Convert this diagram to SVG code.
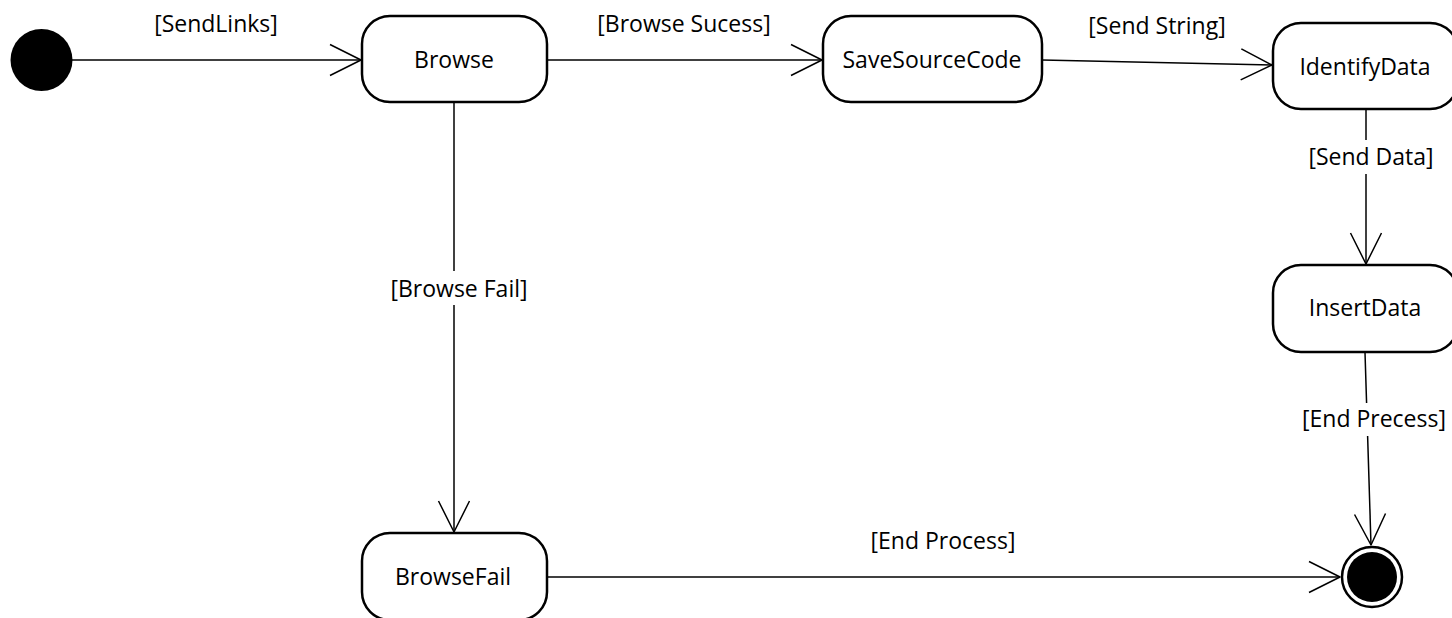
<svg xmlns="http://www.w3.org/2000/svg" width="1452" height="618" viewBox="0 0 1452 618">
<style>
.state{fill:#fff;stroke:#000;stroke-width:2.5}
.t{font-family:"Open Sans","Liberation Sans",sans-serif;font-size:23px;fill:#000;text-anchor:middle}
.c{fill:none;stroke:#000;stroke-width:1.5}
.bg{fill:#fff;stroke:none}
</style>
<defs>
<marker id="open" markerUnits="userSpaceOnUse" markerWidth="40" markerHeight="40" viewBox="-34 -20 40 40" refX="0" refY="0" orient="auto" overflow="visible">
<path d="M-31,-15.5 L0,0 L-31,15.5" fill="none" stroke="#000" stroke-width="1.5" stroke-linejoin="round"/>
</marker>
</defs>
<rect width="1452" height="618" fill="#fff"/>
<g id="connectors">
<line class="c" x1="72" y1="60" x2="361" y2="60" marker-end="url(#open)"/>
<line class="c" x1="547" y1="60" x2="822" y2="60" marker-end="url(#open)"/>
<line class="c" x1="1042" y1="60" x2="1272" y2="65" marker-end="url(#open)"/>
<line class="c" x1="1366" y1="109" x2="1366" y2="264" marker-end="url(#open)"/>
<line class="c" x1="1365" y1="352" x2="1371" y2="545" marker-end="url(#open)"/>
<line class="c" x1="454" y1="102" x2="454" y2="532" marker-end="url(#open)"/>
<line class="c" x1="547" y1="577" x2="1340" y2="577" marker-end="url(#open)"/>
<text class="t" x="216" y="32">[SendLinks]</text>
<text class="t" x="684" y="32">[Browse Sucess]</text>
<text class="t" x="1157" y="34">[Send String]</text>
<rect class="bg" x="1305" y="140" width="132" height="34"/>
<text class="t" x="1371" y="165">[Send Data]</text>
<rect class="bg" x="388" y="271" width="144" height="34"/>
<text class="t" x="459" y="297">[Browse Fail]</text>
<rect class="bg" x="1300" y="403" width="150" height="33"/>
<text class="t" x="1374" y="427">[End Precess]</text>
<text class="t" x="943" y="549">[End Process]</text>
</g>
<g id="initial">
<circle cx="41.5" cy="60" r="31" fill="#000"/>
</g>
<g id="browse">
<rect class="state" x="362" y="16" width="185" height="86" rx="28" ry="28"/>
<text class="t" x="454" y="68">Browse</text>
</g>
<g id="savesourcecode">
<rect class="state" x="823" y="16" width="219" height="86" rx="28" ry="28"/>
<text class="t" x="932" y="68">SaveSourceCode</text>
</g>
<g id="identifydata">
<rect class="state" x="1273" y="23" width="185" height="86" rx="28" ry="28"/>
<text class="t" x="1365" y="75">IdentifyData</text>
</g>
<g id="insertdata">
<rect class="state" x="1273" y="265" width="185" height="87" rx="28" ry="28"/>
<text class="t" x="1365" y="316">InsertData</text>
</g>
<g id="browsefail">
<rect class="state" x="362" y="533" width="185" height="87" rx="28" ry="28"/>
<text class="t" x="453" y="585">BrowseFail</text>
</g>
<g id="final">
<circle cx="1372" cy="577" r="30" fill="#fff" stroke="#000" stroke-width="2.5"/>
<circle cx="1372" cy="577" r="25" fill="#000"/>
</g>
</svg>
